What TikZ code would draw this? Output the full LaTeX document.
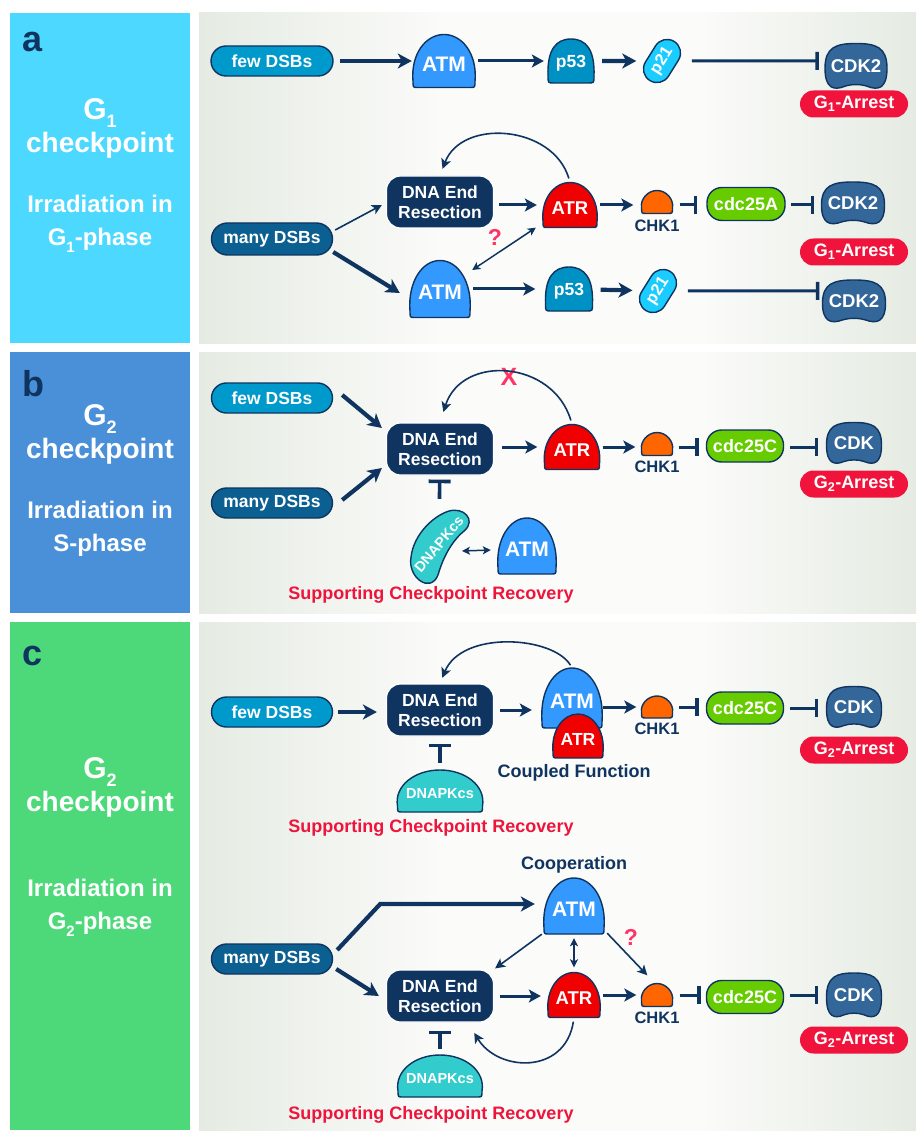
\documentclass[tikz,border=0pt]{standalone}
\usepackage{fontspec}
\setmainfont{Liberation Sans}
\usetikzlibrary{arrows.meta,shapes.misc,calc}
\definecolor{navy}{RGB}{15,52,96}
\definecolor{fewc}{RGB}{0,153,204}
\definecolor{manyc}{RGB}{11,96,145}
\definecolor{atmc}{RGB}{51,153,255}
\definecolor{p53c}{RGB}{0,145,196}
\definecolor{p21c}{RGB}{26,204,255}
\definecolor{cdkc}{RGB}{51,102,153}
\definecolor{arrc}{RGB}{240,20,60}
\definecolor{atrc}{RGB}{240,0,0}
\definecolor{chkc}{RGB}{255,102,0}
\definecolor{cdcc}{RGB}{102,204,0}
\definecolor{dnapkc}{RGB}{51,204,204}
\definecolor{pinkc}{RGB}{255,51,102}
\definecolor{supc}{RGB}{238,20,60}
\definecolor{lca}{RGB}{77,217,255}
\definecolor{lcb}{RGB}{74,144,217}
\definecolor{lcc}{RGB}{77,217,122}
\definecolor{bgg}{RGB}{229,235,227}
\definecolor{bgw}{RGB}{251,251,249}
\pgfdeclarehorizontalshading{panelbg}{100bp}{color(0bp)=(bgg); color(25bp)=(bgg); color(42bp)=(bgw); color(60bp)=(bgw); color(75bp)=(bgg); color(100bp)=(bgg)}
\newcommand\fsz[1]{\fontsize{#1}{#1}\selectfont}
\tikzset{
 conn/.style={draw=navy},
 athick/.style={conn, line width=4.2pt, -{Stealth[length=14pt,width=15pt,inset=4pt]}},
 amed/.style={conn, line width=3pt, -{Stealth[length=12pt,width=13pt,inset=3pt]}},
 athin/.style={conn, line width=1.6pt, -{Stealth[length=10pt,width=10pt,inset=2.5pt]}},
 adbl/.style={conn, line width=1.5pt, {Stealth[length=8pt,width=8pt,inset=2pt]}-{Stealth[length=8pt,width=8pt,inset=2pt]}},
 ainh/.style={conn, line width=3pt, -{Bar[width=18pt,line width=3.4pt]}},
 tbar/.style={conn, line width=3.6pt, -{Bar[width=22pt,line width=3.6pt]}},
 shp/.style={draw=navy, line width=1.4pt},
 box/.style={inner sep=0pt, text=white},
 pill/.style={rounded rectangle, shp, inner sep=0pt, minimum width=121pt, minimum height=30pt, text=white, font=\bfseries\fsz{17.5}},
 arrest/.style={rounded rectangle, fill=arrc, inner sep=0pt, minimum width=108pt, minimum height=27pt, text=white, font=\bfseries\fsz{18}},
 dnabox/.style={rectangle, rounded corners=14pt, fill=navy, draw=white, line width=1.2pt, minimum width=107pt, minimum height=52pt, inner sep=0pt, text=white, align=center, font=\bfseries\fontsize{17.5}{19.5}\selectfont},
 cdcbox/.style={rectangle, rounded corners=15pt, shp, fill=cdcc, minimum width=77pt, minimum height=32pt, inner sep=0pt, text=white, font=\bfseries\fsz{18}},
 caps/.style={rounded rectangle, shp, inner sep=0pt, text=white},
 navytxt/.style={text=navy, font=\bfseries\fsz{17}, inner sep=0pt},
 redtxt/.style={text=supc, font=\bfseries\fsz{18}, inner sep=0pt},
 pinktxt/.style={text=pinkc, font=\bfseries\fsz{23}, inner sep=0pt},
 lefttxt/.style={text=white, font=\bfseries, inner sep=0pt, anchor=base},
 letter/.style={text=navy, font=\bfseries\fsz{36}, inner sep=0pt, anchor=base west},
}
% dome: name x y w h fill fontsize text
\newcommand\dome[8]{%
 \filldraw[shp, fill=#6, shift={(#2,#3)}] ({-#4/2+5},{#5/2}) -- ({#4/2-5},{#5/2})
   .. controls ({#4/2},{#5/2}) and ({#4/2},{#5/2}) .. ({#4/2},{#5/2-6})
   .. controls ({#4/2+0.04*#4},{-0.12*#5}) and ({0.3*#4},{-#5/2}) .. (0,{-#5/2})
   .. controls ({-0.3*#4},{-#5/2}) and ({-#4/2-0.04*#4},{-0.12*#5}) .. ({-#4/2},{#5/2-6})
   .. controls ({-#4/2},{#5/2}) and ({-#4/2},{#5/2}) .. ({-#4/2+5},{#5/2}) -- cycle;
 \node[box, minimum width=#4pt, minimum height=#5pt, font=\bfseries\fsz{#7}] (#1) at (#2,#3) {\raisebox{-3pt}[\height][\depth]{#8}};}
% squarer dome (p53)
\newcommand\domesq[8]{%
 \filldraw[shp, fill=#6, shift={(#2,#3)}] ({-#4/2+6},{#5/2}) -- ({#4/2-6},{#5/2})
   .. controls ({#4/2},{#5/2}) and ({#4/2},{#5/2}) .. ({#4/2},{#5/2-7})
   .. controls ({#4/2+0.02*#4},{-0.25*#5}) and ({0.33*#4},{-#5/2}) .. (0,{-#5/2})
   .. controls ({-0.33*#4},{-#5/2}) and ({-#4/2-0.02*#4},{-0.25*#5}) .. ({-#4/2},{#5/2-7})
   .. controls ({-#4/2},{#5/2}) and ({-#4/2},{#5/2}) .. ({-#4/2+6},{#5/2}) -- cycle;
 \node[box, minimum width=#4pt, minimum height=#5pt, font=\bfseries\fsz{#7}] (#1) at (#2,#3) {\raisebox{-2pt}[\height][\depth]{#8}};}
% cdk: name x y w h text
\newcommand\cdk[6]{%
 \filldraw[shp, fill=cdkc, shift={(#2,#3)}] ({-#4/2},{0.05*#5})
   .. controls ({-#4/2},{0.5*#5}) and ({-0.36*#4},{0.55*#5}) .. ({-0.18*#4},{0.45*#5})
   .. controls ({-0.07*#4},{0.4*#5}) and ({0.07*#4},{0.4*#5}) .. ({0.18*#4},{0.45*#5})
   .. controls ({0.36*#4},{0.55*#5}) and ({#4/2},{0.5*#5}) .. ({#4/2},{0.05*#5})
   .. controls ({#4/2},{-0.42*#5}) and ({0.32*#4},{-0.5*#5}) .. (0,{-0.5*#5})
   .. controls ({-0.32*#4},{-0.5*#5}) and ({-#4/2},{-0.42*#5}) .. ({-#4/2},{0.05*#5}) -- cycle;
 \node[box, minimum width=#4pt, minimum height=#5pt, font=\bfseries\fsz{18.5}] (#1) at (#2,#3) {#6};}
\begin{document}
\begin{tikzpicture}[x=1pt,y=-1pt]
\useasboundingbox (0,0) rectangle (916,1131);
\fill[white] (0,0) rectangle (916,1131);
% panels
\fill[lca] (10,13) rectangle (190,343);
\shade[shading=panelbg] (199,13) rectangle (916,343);
\fill[lcb] (10,352) rectangle (190,613);
\shade[shading=panelbg] (199,352) rectangle (916,613);
\fill[lcc] (10,622) rectangle (190,1130);
\shade[shading=panelbg] (199,622) rectangle (916,1130);
% left texts
\node[letter] (la) at (22,52) {a};
\node[lefttxt] (gA) at (100,120) {\fsz{30}G\raisebox{-8pt}{\fsz{18}1}};
\node[lefttxt] (ckA) at (100,153) {\fsz{28}checkpoint};
\node[lefttxt] (irA) at (100,213) {\fsz{24}Irradiation in};
\node[lefttxt] (phA) at (100,246) {\fsz{24}G\raisebox{-7pt}{\fsz{15}1}-phase};
\node[letter] (lb) at (22,396) {b};
\node[lefttxt] (gB) at (100,425) {\fsz{30}G\raisebox{-8pt}{\fsz{18}2}};
\node[lefttxt] (ckB) at (100,458) {\fsz{28}checkpoint};
\node[lefttxt] (irB) at (100,518) {\fsz{24}Irradiation in};
\node[lefttxt] (phB) at (100,551) {\fsz{24}S-phase};
\node[letter] (lc) at (22,665) {c};
\node[lefttxt] (gC) at (100,778) {\fsz{30}G\raisebox{-8pt}{\fsz{18}2}};
\node[lefttxt] (ckC) at (100,811) {\fsz{28}checkpoint};
\node[lefttxt] (irC) at (100,896) {\fsz{24}Irradiation in};
\node[lefttxt] (phC) at (100,929) {\fsz{24}G\raisebox{-7pt}{\fsz{15}2}-phase};

% ===== panel a, row 1
\node[pill, fill=fewc, minimum width=122pt] (fewA) at (272,61) {few DSBs};
\dome{atmA1}{444}{61}{62}{53}{atmc}{21}{ATM}
\domesq{p53A1}{571}{61}{46}{44}{p53c}{17.5}{p53}
\node[caps, fill=p21c, rotate=58, minimum width=46pt, minimum height=27pt, font=\bfseries\fsz{16.5}] (p21A1) at (662,61) {p21};
\cdk{cdkA1}{856}{66}{62}{45}{CDK2}
\node[arrest] (arrA1) at (854,104) {G\textsubscript{1}-Arrest};
\draw[athick, shorten <=6pt, shorten >=1pt] (fewA.east) -- (atmA1.west);
\draw[amed, shorten <=3pt, shorten >=4pt] (atmA1.east) -- (p53A1.west);
\draw[athick, shorten <=8pt, shorten >=9pt] (p53A1) -- (p21A1);
\draw[ainh, shorten <=13pt, shorten >=6pt] (p21A1) -- (cdkA1.west |- p21A1);

% ===== panel a, row 2
\node[dnabox] (dnaA) at (440,202) {DNA End\\Resection};
\dome{atrA}{570}{205}{54}{45}{atrc}{18.5}{ATR}
\dome{chkA}{657}{202}{31}{23}{chkc}{10}{}
\node[navytxt, font=\bfseries\fsz{16.5}] (chkAl) at (657,226) {CHK1};
\node[cdcbox, minimum width=78pt, minimum height=33pt] (cdcA) at (746,204) {cdc25A};
\cdk{cdkA2}{853}{203}{63}{42}{CDK2}
\node[arrest] (arrA2) at (854,252) {G\textsubscript{1}-Arrest};
\node[pill, fill=manyc, minimum height=32pt] (manyA) at (272,239) {many DSBs};
\dome{atmA2}{440}{289}{60}{57}{atmc}{21}{ATM}
\domesq{p53A2}{569}{289}{47}{44}{p53c}{17.5}{p53}
\node[caps, fill=p21c, rotate=58, minimum width=46pt, minimum height=27pt, font=\bfseries\fsz{16.5}] (p21A2) at (658,291) {p21};
\cdk{cdkA3}{854}{301}{63}{42}{CDK2}
\node[pinktxt] (qA) at (495,237) {?};
\draw[athin] ($(manyA.east)+(2,-9)$) -- ($(dnaA.west)+(-4,3)$);
\draw[athick] ($(manyA.east)+(0,13)$) -- ($(atmA2.west)+(-10,4)$);
\draw[amed, shorten <=5pt, shorten >=6pt] (dnaA.east |- atrA) -- (atrA.west);
\draw[amed, shorten <=3pt, shorten >=8pt] (atrA.east) -- (atrA.east -| chkA.west);
\draw[ainh, shorten <=7pt, shorten >=9pt] (atrA.east -| chkA.east) -- (atrA.east -| cdcA.west);
\draw[ainh, shorten <=5pt, shorten >=7pt] (atrA.east -| cdcA.east) -- (atrA.east -| cdkA2.west);
\draw[athin, shorten <=4pt, shorten >=7pt] (atrA.north) .. controls (553,125) and (462,118) .. (dnaA.north);
\draw[adbl] ($(atmA2.east)+(2,-19)$) -- ($(atrA.south west)+(-7,0)$);
\draw[amed, shorten <=3pt, shorten >=10pt] (atmA2.east) -- (atmA2.east -| p53A2.west);
\draw[athick, shorten <=8pt, shorten >=9pt] (p53A2) -- (p21A2);
\draw[ainh, shorten <=13pt, shorten >=3pt] (p21A2) -- (cdkA3.west |- p21A2);

% ===== panel b
\node[pill, fill=fewc] (fewB) at (272,398) {few DSBs};
\node[pill, fill=manyc] (manyB) at (272,503) {many DSBs};
\node[dnabox] (dnaB) at (440,449) {DNA End\\Resection};
\dome{atrB}{572}{447}{55}{45}{atrc}{18.5}{ATR}
\dome{chkB}{657}{444}{31}{23}{chkc}{10}{}
\node[navytxt, font=\bfseries\fsz{16.5}] (chkBl) at (657,467) {CHK1};
\node[cdcbox] (cdcB) at (745,446) {cdc25C};
\cdk{cdkB}{854}{443}{55}{41}{CDK}
\node[arrest] (arrB) at (854,484) {G\textsubscript{2}-Arrest};
% banana-shaped DNAPKcs
\filldraw[shp, fill=dnapkc, shift={(439,544)}, rotate=50]
  (-28,-13) .. controls (-10,-25) and (16,-23) .. (31,-14)
  .. controls (45,-5) and (42,13) .. (27,11)
  .. controls (12,8) and (-6,11) .. (-24,19)
  .. controls (-44,26) and (-46,-3) .. (-28,-13) -- cycle;
\node[inner sep=0pt, rotate=50, minimum width=80pt, minimum height=34pt, text=white, font=\bfseries\fsz{14.5}] (dnapkB) at (439,544) {DNAPKcs};
\dome{atmB}{527}{546}{58}{56}{atmc}{21}{ATM}
\node[pinktxt, font=\bfseries\fsz{25}] (xB) at (509,377) {X};
\node[redtxt] (supB) at (431,595) {Supporting Checkpoint Recovery};
\draw[athick] ($(fewB.east)+(9,-3)$) -- ($(dnaB.west)+(-4,-21)$);
\draw[athick] ($(manyB.east)+(9,-3)$) -- ($(dnaB.west)+(-4,19)$);
\draw[amed, shorten <=8pt, shorten >=7pt] (dnaB.east |- atrB) -- (atrB.west);
\draw[amed, shorten <=3pt, shorten >=6pt] (atrB.east) -- (atrB.east -| chkB.west);
\draw[ainh, shorten <=6pt, shorten >=7pt] (atrB.east -| chkB.east) -- (atrB.east -| cdcB.west);
\draw[ainh, shorten <=6pt, shorten >=8pt] (atrB.east -| cdcB.east) -- (atrB.east -| cdkB.west);
\draw[athin, shorten <=4pt, shorten >=11pt] (atrB.north) .. controls (553,360) and (462,354) .. (dnaB.north);
\draw[tbar, shorten <=18pt, shorten >=4pt] (dnapkB) -- (dnaB);
\draw[adbl] ($(dnapkB)+(23,7)$) -- ($(atmB.west)+(-7,4)$);

% ===== panel c, top
\node[pill, fill=fewc] (fewC) at (272,712) {few DSBs};
\node[dnabox] (dnaC1) at (440,710) {DNA End\\Resection};
\dome{atmC1}{572}{698}{60}{60}{atmc}{21}{ATM}
\dome{atrC1}{578}{736}{50}{44}{atrc}{17.5}{ATR}
\node[navytxt, font=\bfseries\fsz{18}] (coupC) at (574,773) {Coupled Function};
\dome{chkC1}{657}{707}{31}{22}{chkc}{10}{}
\node[navytxt, font=\bfseries\fsz{16.5}] (chkC1l) at (657,729) {CHK1};
\node[cdcbox] (cdcC1) at (745,708) {cdc25C};
\cdk{cdkC1}{854}{707}{55}{41}{CDK}
\node[arrest] (arrC1) at (854,750) {G\textsubscript{2}-Arrest};
\dome{dnapkC1}{440}{791}{85}{42}{dnapkc}{14.5}{DNAPKcs}
\node[redtxt] (supC1) at (431,828) {Supporting Checkpoint Recovery};
\draw[athick, shorten <=5pt, shorten >=9pt] (fewC.east) -- (fewC.east -| dnaC1.west);
\draw[amed, shorten <=6pt, shorten >=10pt] (dnaC1.east) -- (dnaC1.east -| atmC1.west);
\draw[amed, shorten <=1pt, shorten >=5pt] (atmC1.east |- chkC1) -- (chkC1.west);
\draw[ainh, shorten <=6pt, shorten >=7pt] (chkC1.east) -- (chkC1.east -| cdcC1.west);
\draw[ainh, shorten <=6pt, shorten >=8pt] (cdcC1.east) -- (cdcC1.east -| cdkC1.west);
\draw[athin, shorten <=3pt, shorten >=6pt] (atmC1.north) .. controls (553,636) and (462,630) .. (dnaC1.north);
\draw[tbar, shorten <=7pt, shorten >=7pt] (dnapkC1) -- (dnaC1);

% ===== panel c, bottom
\node[navytxt, font=\bfseries\fsz{18}] (coopC) at (574,865) {Cooperation};
\dome{atmC2}{574}{906}{60}{56}{atmc}{21}{ATM}
\node[pill, fill=manyc] (manyC) at (272,959) {many DSBs};
\node[dnabox] (dnaC2) at (440,996) {DNA End\\Resection};
\dome{atrC2}{574}{995}{52}{45}{atrc}{18.5}{ATR}
\dome{chkC2}{657}{995}{31}{23}{chkc}{10}{}
\node[navytxt, font=\bfseries\fsz{16.5}] (chkC2l) at (657,1018) {CHK1};
\node[cdcbox, minimum height=33pt] (cdcC2) at (745,997) {cdc25C};
\cdk{cdkC2}{854}{995}{55}{44}{CDK}
\node[arrest] (arrC2) at (854,1040) {G\textsubscript{2}-Arrest};
\dome{dnapkC2}{440}{1076}{84}{42}{dnapkc}{14.5}{DNAPKcs}
\node[redtxt] (supC2) at (431,1115) {Supporting Checkpoint Recovery};
\node[pinktxt] (qC) at (631,937) {?};
\draw[athick, line join=miter] ($(manyC.east)+(4,-9)$) -- ($(manyC.east)+(47,-55)$) -- ($(atmC2.west)+(-9,-2)$);
\draw[athick] ($(manyC.east)+(3,10)$) -- ($(dnaC2.west)+(-7,0)$);
\draw[athin] ($(atmC2.south west)+(-2,0)$) -- ($(dnaC2.north east)+(1,-1)$);
\draw[adbl, shorten <=4pt, shorten >=5pt] (atmC2) -- (atrC2);
\draw[athin] ($(atmC2.south east)+(3,-1)$) -- ($(chkC2.north west)+(6,-8)$);
\draw[amed, shorten <=6pt, shorten >=7pt] (dnaC2.east) -- (dnaC2.east -| atrC2.west);
\draw[amed, shorten <=3pt, shorten >=5pt] (atrC2.east) -- (atrC2.east -| chkC2.west);
\draw[ainh, shorten <=7pt, shorten >=5pt] (chkC2.east) -- (chkC2.east -| cdcC2.west);
\draw[ainh, shorten <=6pt, shorten >=8pt] (cdcC2.east |- chkC2) -- (cdkC2.west |- chkC2);
\draw[athin, shorten <=4pt, shorten >=12pt] (atrC2.south) .. controls (565,1075) and (498,1072) .. ($(dnaC2.south)+(28,0)$);
\draw[tbar, shorten <=6pt, shorten >=8pt] (dnapkC2) -- (dnaC2);
\end{tikzpicture}
\end{document}
